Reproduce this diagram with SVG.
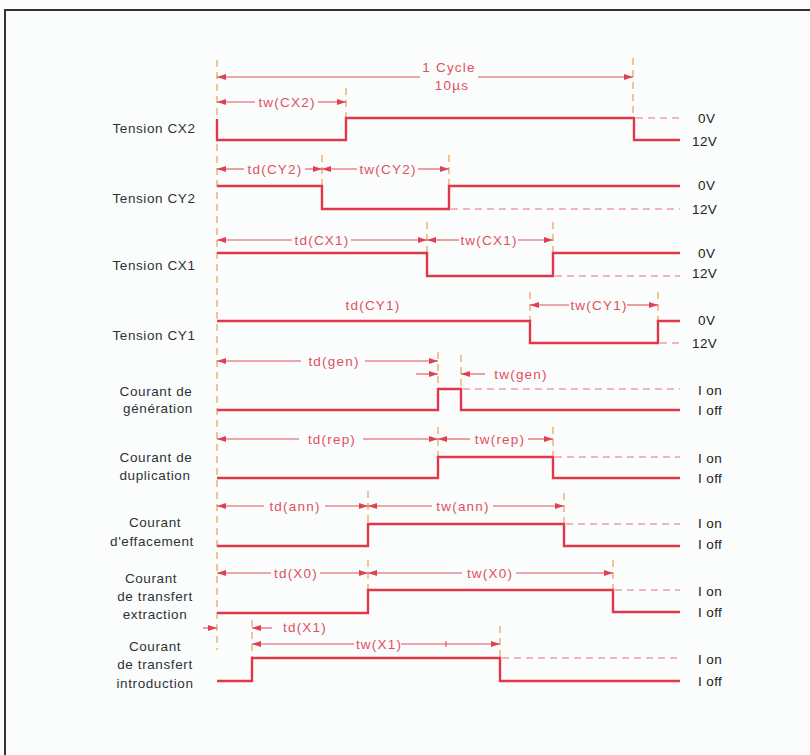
<svg xmlns="http://www.w3.org/2000/svg" width="810" height="755" viewBox="0 0 810 755">
<defs>
<marker id="ah" markerUnits="userSpaceOnUse" markerWidth="9" markerHeight="6" refX="9" refY="3" orient="auto-start-reverse"><path d="M0,0 L9,3 L0,6 z" fill="#e0404f"/></marker>
<style>
.sig{fill:none;stroke:#e0384a;stroke-width:2.4;stroke-linejoin:miter}
.dim{fill:none;stroke:#e0505e;stroke-width:1.1}
.vd{fill:none;stroke:#e8a050;stroke-width:1.2;stroke-dasharray:7,5}
.hd{fill:none;stroke:#e8707a;stroke-width:1.1;stroke-dasharray:7,5}
.lbl{font-family:"Liberation Sans",Arial,sans-serif;font-size:13.5px;letter-spacing:0.6px;fill:#2e3236;text-anchor:middle}
.rl{font-family:"Liberation Sans",Arial,sans-serif;font-size:13.5px;letter-spacing:0.4px;fill:#222}
.dl{font-family:"Liberation Sans",Arial,sans-serif;font-size:13.5px;letter-spacing:1.2px;fill:#e0505e;text-anchor:middle}
</style>
</defs>
<rect width="810" height="755" fill="#fbfdfd"/>
<g id="frame">
<path d="M4,10 H810 M5,10 V755" fill="none" stroke="#333" stroke-width="2"/>
</g>
<g id="connectors">
<path class="vd" d="M217,60 V650"/>
<path class="vd" d="M633,58 V117"/>
<path class="dim" d="M217,77 H420" marker-start="url(#ah)"/>
<path class="dim" d="M478,77 H633" marker-end="url(#ah)"/>
</g>
<g id="cycle-label">
<text class="dl" x="449" y="72">1 Cycle</text>
<text class="dl" x="452" y="90">10µs</text>
</g>
<g id="row-cx2">
<text class="lbl" x="154" y="133">Tension CX2</text>
<path class="vd" d="M346,88 V118"/>
<path class="dim" d="M217,102 H255" marker-start="url(#ah)"/>
<path class="dim" d="M318,102 H346" marker-end="url(#ah)"/>
<text class="dl" x="287" y="107">tw(CX2)</text>
<path class="hd" d="M636,118 H680"/>
<path class="sig" d="M217,119 V140 H346 V118 H634 V140 H680"/>
<text class="rl" x="698" y="123">0V</text>
<text class="rl" x="692" y="146">12V</text>
</g>
<g id="row-cy2">
<text class="lbl" x="154" y="203">Tension CY2</text>
<path class="vd" d="M322,155 V186 M449,155 V186"/>
<path class="dim" d="M217,169 H244" marker-start="url(#ah)"/>
<path class="dim" d="M305,169 H322" marker-end="url(#ah)"/>
<text class="dl" x="275" y="174">td(CY2)</text>
<path class="dim" d="M322,169 H357" marker-start="url(#ah)"/>
<path class="dim" d="M418,169 H449" marker-end="url(#ah)"/>
<text class="dl" x="388" y="174">tw(CY2)</text>
<path class="hd" d="M451,209 H680"/>
<path class="sig" d="M217,186 H322 V209 H449 V186 H680"/>
<text class="rl" x="698" y="190">0V</text>
<text class="rl" x="692" y="214">12V</text>
</g>
<g id="row-cx1">
<text class="lbl" x="154" y="270">Tension CX1</text>
<path class="vd" d="M427,222 V253 M553,222 V253"/>
<path class="dim" d="M217,240 H292" marker-start="url(#ah)"/>
<path class="dim" d="M351,240 H427" marker-end="url(#ah)"/>
<text class="dl" x="322" y="245">td(CX1)</text>
<path class="dim" d="M427,240 H459" marker-start="url(#ah)"/>
<path class="dim" d="M518,240 H553" marker-end="url(#ah)"/>
<text class="dl" x="489" y="245">tw(CX1)</text>
<path class="hd" d="M555,276 H680"/>
<path class="sig" d="M217,253 H427 V276 H553 V253 H680"/>
<text class="rl" x="698" y="258">0V</text>
<text class="rl" x="692" y="278">12V</text>
</g>
<g id="row-cy1">
<text class="lbl" x="154" y="340">Tension CY1</text>
<text class="dl" x="373" y="310">td(CY1)</text>
<path class="vd" d="M530,292 V321 M658,292 V321"/>
<path class="dim" d="M530,305 H569" marker-start="url(#ah)"/>
<path class="dim" d="M627,305 H658" marker-end="url(#ah)"/>
<text class="dl" x="599" y="310">tw(CY1)</text>
<path class="hd" d="M660,343 H680"/>
<path class="sig" d="M217,321 H530 V343 H658 V321 H680"/>
<text class="rl" x="698" y="325">0V</text>
<text class="rl" x="692" y="348">12V</text>
</g>
<g id="row-gen">
<text class="lbl" x="156" y="396">Courant  de</text>
<text class="lbl" x="158" y="413">génération</text>
<path class="vd" d="M438,352 V389 M461,355 V389"/>
<path class="dim" d="M217,361 H301" marker-start="url(#ah)"/>
<path class="dim" d="M365,361 H438" marker-end="url(#ah)"/>
<text class="dl" x="334" y="366">td(gen)</text>
<path class="dim" d="M416,374 H438" marker-end="url(#ah)"/>
<path class="dim" d="M485,374 H461" marker-end="url(#ah)"/>
<text class="dl" x="521" y="379">tw(gen)</text>
<path class="hd" d="M463,389 H680"/>
<path class="sig" d="M217,410 H438 V389 H461 V410 H680"/>
<text class="rl" x="698" y="395">I on</text>
<text class="rl" x="698" y="415">I off</text>
</g>
<g id="row-rep">
<text class="lbl" x="156" y="462">Courant de</text>
<text class="lbl" x="155" y="480">duplication</text>
<path class="vd" d="M438,427 V457 M553,427 V457"/>
<path class="dim" d="M217,439 H299" marker-start="url(#ah)"/>
<path class="dim" d="M363,439 H438" marker-end="url(#ah)"/>
<text class="dl" x="332" y="444">td(rep)</text>
<path class="dim" d="M438,439 H470" marker-start="url(#ah)"/>
<path class="dim" d="M528,439 H553" marker-end="url(#ah)"/>
<text class="dl" x="500" y="444">tw(rep)</text>
<path class="hd" d="M555,457 H680"/>
<path class="sig" d="M217,478 H438 V457 H553 V478 H680"/>
<text class="rl" x="698" y="463">I on</text>
<text class="rl" x="698" y="483">I off</text>
</g>
<g id="row-ann">
<text class="lbl" x="155" y="527">Courant</text>
<text class="lbl" x="152" y="546">d'effacement</text>
<path class="vd" d="M368,491 V524 M564,493 V524"/>
<path class="dim" d="M217,506 H264" marker-start="url(#ah)"/>
<path class="dim" d="M325,506 H368" marker-end="url(#ah)"/>
<text class="dl" x="295" y="511">td(ann)</text>
<path class="dim" d="M368,506 H432" marker-start="url(#ah)"/>
<path class="dim" d="M493,506 H564" marker-end="url(#ah)"/>
<text class="dl" x="463" y="511">tw(ann)</text>
<path class="hd" d="M566,524 H680"/>
<path class="sig" d="M217,546 H368 V524 H564 V546 H680"/>
<text class="rl" x="698" y="528">I on</text>
<text class="rl" x="698" y="549">I off</text>
</g>
<g id="row-x0">
<text class="lbl" x="151" y="583">Courant</text>
<text class="lbl" x="155" y="601">de transfert</text>
<text class="lbl" x="155" y="619">extraction</text>
<path class="vd" d="M368,560 V590 M613,560 V590"/>
<path class="dim" d="M217,573 H271" marker-start="url(#ah)"/>
<path class="dim" d="M320,573 H368" marker-end="url(#ah)"/>
<text class="dl" x="296" y="578">td(X0)</text>
<path class="dim" d="M368,573 H462" marker-start="url(#ah)"/>
<path class="dim" d="M516,573 H613" marker-end="url(#ah)"/>
<text class="dl" x="490" y="578">tw(X0)</text>
<path class="hd" d="M615,590 H680"/>
<path class="sig" d="M217,613 H368 V590 H613 V612 H680"/>
<text class="rl" x="698" y="596">I on</text>
<text class="rl" x="698" y="617">I off</text>
</g>
<g id="row-x1">
<text class="lbl" x="155" y="651">Courant</text>
<text class="lbl" x="155" y="669">de transfert</text>
<text class="lbl" x="155" y="688">introduction</text>
<path class="vd" d="M252,620 V658 M500,626 V658"/>
<path class="dim" d="M203,628 H217" marker-end="url(#ah)"/>
<path class="dim" d="M272,628 H252" marker-end="url(#ah)"/>
<text class="dl" x="305" y="632">td(X1)</text>
<path class="dim" d="M252,644 H354" marker-start="url(#ah)"/>
<path class="dim" d="M401,644 H500" marker-end="url(#ah)"/>
<path class="dim" d="M446,641 V647"/>
<text class="dl" x="379" y="649">tw(X1)</text>
<path class="hd" d="M502,658 H680"/>
<path class="sig" d="M217,681 H252 V658 H500 V681 H680"/>
<text class="rl" x="698" y="664">I on</text>
<text class="rl" x="698" y="686">I off</text>
</g>
</svg>
